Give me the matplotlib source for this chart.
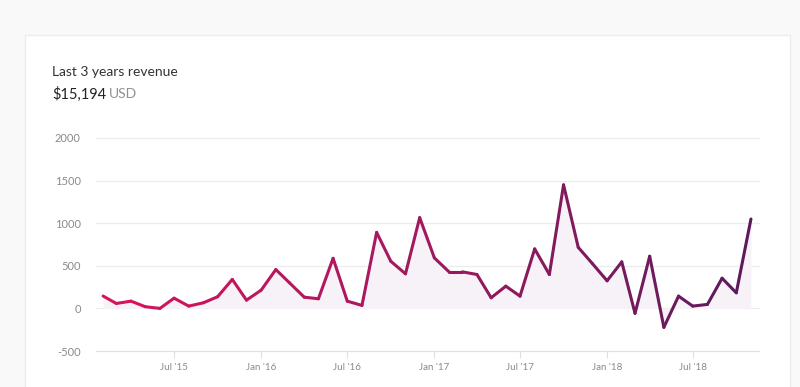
import numpy as np
import pandas as pd
import matplotlib
matplotlib.use("Agg")
import matplotlib.pyplot as plt
import matplotlib.dates as mdates
from matplotlib.collections import LineCollection
from matplotlib.colors import LinearSegmentedColormap
from matplotlib.patches import Rectangle

plt.rcParams['font.family'] = ['Lato', 'DejaVu Sans']
plt.rcParams['axes.unicode_minus'] = False

# monthly revenue, Feb 2015 - Nov 2018
months = pd.date_range("2015-02-01", "2018-11-01", freq="MS")
revenue = [145, 58, 85, 20, 0, 120, 27, 66, 137, 340, 97, 214,
           456, 300, 132, 113, 588, 85, 35, 892, 553, 406, 1065,
           593, 429, 429, 398, 125, 261, 144, 698, 398, 1450, 717,
           526, 324, 546, -58, 612, -222, 144, 27, 47, 354, 183, 1049]
yticks = [-500, 0, 500, 1000, 1500, 2000]
xtick_dates = pd.to_datetime(["2015-07-01", "2016-01-01", "2016-07-01", "2017-01-01",
                              "2017-07-01", "2018-01-01", "2018-07-01"])
xtick_labels = ["Jul '15", "Jan '16", "Jul '16", "Jan '17", "Jul '17", "Jan '18", "Jul '18"]

fig = plt.figure(figsize=(8, 3.87), dpi=100)
fig.patch.set_facecolor("#f9f9f9")
fig.patches.append(Rectangle((25 / 800, -0.1), 765 / 800, 1 - 35 / 387 + 0.1,
                             transform=fig.transFigure, facecolor="white",
                             edgecolor="#ececec", lw=1, zorder=-1))

ax = fig.add_axes([96 / 800, 1 - 351 / 387, 663 / 800, 213 / 387])
ax.set_zorder(2)
ax.set_facecolor("none")

x = mdates.date2num(months)
y = np.array(revenue, dtype=float)

ax.fill_between(x, y, 0, color="#f7f2f8", zorder=1, lw=0)

pts = np.column_stack([x, y]).reshape(-1, 1, 2)
segs = np.concatenate([pts[:-1], pts[1:]], axis=1)
cmap = LinearSegmentedColormap.from_list("rev", ["#d6155c", "#a0195e", "#5c1a5b"])
t = np.linspace(0, 1, len(segs))
lc = LineCollection(segs, colors=cmap(t), linewidths=2.2, zorder=3,
                    capstyle="round", joinstyle="round")
ax.add_collection(lc)

ax.set_xlim(x[0] - 15, x[-1] + 17)
ax.set_ylim(-500, 2000)
ax.set_yticks(yticks)
ax.set_xticks(mdates.date2num(xtick_dates))
ax.set_xticklabels(xtick_labels)

for v in yticks[1:]:
    ax.axhline(v, color="#ececec", lw=0.9, zorder=0, clip_on=False)

for s in ["top", "right", "left"]:
    ax.spines[s].set_visible(False)
ax.spines["bottom"].set_color("#e0e0e0")
ax.spines["bottom"].set_linewidth(0.9)

ax.tick_params(axis="y", length=0, pad=11, labelsize=8, labelcolor="#8a8a8a")
ax.tick_params(axis="x", length=5, width=0.8, color="#e0e0e0", pad=4,
               labelsize=7, labelcolor="#8a8a8a")

fig.text(52 / 800, 1 - 72 / 387, "Last 3 years revenue", fontsize=10,
         color="#333333", va="center", ha="left")
t1 = fig.text(52 / 800, 1 - 94 / 387, "$15,194", fontsize=10.5, color="#222222",
              va="center", ha="left")
fig.canvas.draw()
bb = t1.get_window_extent()
fig.text((bb.x1 + 3) / 800, 1 - 94 / 387, "USD", fontsize=10, color="#909090",
         va="center", ha="left")

fig.savefig("out.png", dpi=100, facecolor=fig.get_facecolor())
